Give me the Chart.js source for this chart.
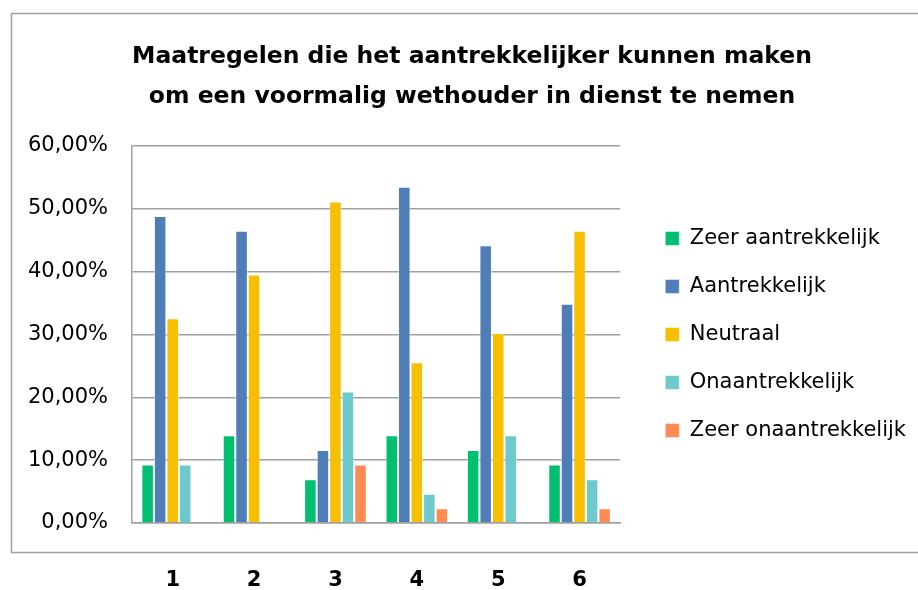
<!DOCTYPE html>
<html>
<head>
<meta charset="utf-8">
<script src="https://cdn.jsdelivr.net/npm/chart.js@4/dist/chart.umd.min.js"></script>
<style>
  html, body { margin: 0; padding: 0; background: #ffffff; }
  #wrap { width: 918px; height: 590px; }
</style>
</head>
<body>
<div id="wrap"><canvas id="c" width="918" height="590"></canvas></div>
<script>
const categories = ['1', '2', '3', '4', '5', '6'];
const zeerAantrekkelijk   = [9.30, 13.95, 6.98, 13.95, 11.63, 9.30];
const aantrekkelijk       = [48.84, 46.51, 11.63, 53.49, 44.19, 34.88];
const neutraal            = [32.56, 39.53, 51.16, 25.58, 30.23, 46.51];
const onaantrekkelijk     = [9.30, 0, 20.93, 4.65, 13.95, 6.98];
const zeerOnaantrekkelijk = [0, 0, 9.30, 2.33, 0, 2.33];
const seriesNames = ['Zeer aantrekkelijk', 'Aantrekkelijk', 'Neutraal', 'Onaantrekkelijk', 'Zeer onaantrekkelijk'];
const yTicks = [0, 10, 20, 30, 40, 50, 60];
const titleLines = ['Maatregelen die het aantrekkelijker kunnen maken', 'om een voormalig wethouder in dienst te nemen'];

const colors = ['#00BF6F', '#4F7DB8', '#F8BE00', '#6EC9CD', '#FF8B52'];
const seriesData = [zeerAantrekkelijk, aantrekkelijk, neutraal, onaantrekkelijk, zeerOnaantrekkelijk];

const frame = {
  id: 'frame',
  beforeDraw(chart) {
    const ctx = chart.ctx;
    ctx.save();
    ctx.fillStyle = '#ffffff';
    ctx.fillRect(0, 0, chart.width, chart.height);
    ctx.strokeStyle = '#a0a0a0';
    ctx.lineWidth = 1.5;
    ctx.strokeRect(11.5, 13.5, 930, 539);
    ctx.restore();
  }
};

new Chart(document.getElementById('c'), {
  type: 'bar',
  data: {
    labels: categories,
    datasets: seriesData.map((d, i) => ({
      label: seriesNames[i],
      data: d,
      backgroundColor: colors[i],
      borderColor: 'rgba(255,255,255,0.5)',
      borderWidth: 1,
      categoryPercentage: 0.77,
      barPercentage: 1.0
    }))
  },
  options: {
    responsive: false,
    animation: false,
    layout: { padding: { left: 28, right: 2, top: 0, bottom: 0 } },
    plugins: {
      title: {
        display: true,
        text: titleLines,
        color: '#000000',
        font: { family: 'DejaVu Sans', size: 23.5, weight: 'bold', lineHeight: 1.7 },
        padding: { top: 37, bottom: 29 }
      },
      legend: {
        display: true,
        position: 'right',
        fullSize: false,
        maxWidth: 320,
        labels: {
          color: '#000000',
          font: { family: 'DejaVu Sans', size: 21 },
          boxWidth: 14,
          boxHeight: 14,
          padding: 27
        }
      },
      tooltip: { enabled: false }
    },
    scales: {
      x: {
        grid: { display: false, drawTicks: false },
        border: { display: true, color: '#a0a0a0', width: 1.5 },
        ticks: {
          color: '#000000',
          font: { family: 'DejaVu Sans', size: 21, weight: 'bold' },
          padding: 45
        },
        afterFit(scale) { scale.height = 67; }
      },
      y: {
        min: 0,
        max: 60,
        afterBuildTicks(scale) { scale.ticks = yTicks.map(v => ({ value: v })); },
        grid: { color: '#a0a0a0', lineWidth: 1.5, drawTicks: false },
        border: { display: true, color: '#a0a0a0', width: 1.5 },
        ticks: {
          color: '#000000',
          font: { family: 'DejaVu Sans', size: 21 },
          padding: 24,
          callback: v => v.toFixed(2).replace('.', ',') + '%'
        },
        afterFit(scale) { scale.width = 104; }
      },
      gap: {
        type: 'linear',
        position: 'right',
        display: true,
        grid: { display: false },
        border: { display: false },
        ticks: { display: false },
        afterFit(scale) { scale.width = 18; }
      }
    }
  },
  plugins: [frame]
});
</script>
</body>
</html>
